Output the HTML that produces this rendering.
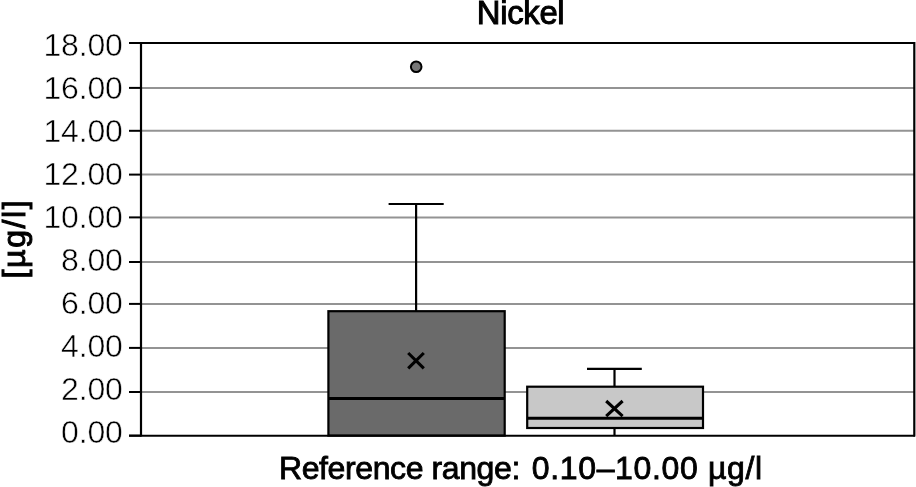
<!DOCTYPE html>
<html><head><meta charset="utf-8">
<style>
html,body{margin:0;padding:0;background:#fff;}
body{width:916px;height:487px;overflow:hidden;}
svg{display:block;will-change:transform;}
text{font-family:"Liberation Sans",sans-serif;fill:#000;}
.tick{font-size:32px;letter-spacing:-0.2px;stroke:#fff;stroke-width:0.5px;}
.title{font-size:32.8px;letter-spacing:-0.3px;stroke:#000;stroke-width:1px;}
.xl{font-size:32px;letter-spacing:0.2px;}
.yl{font-size:32px;letter-spacing:1.6px;}
.sb{stroke:#000;stroke-width:0.85px;}
</style></head><body>
<svg width="916" height="487" viewBox="0 0 916 487">
<rect x="0" y="0" width="916" height="487" fill="#fff"/>
<line x1="142" y1="87.9" x2="914" y2="87.9" stroke="#939393" stroke-width="2"/>
<line x1="142" y1="130.8" x2="914" y2="130.8" stroke="#939393" stroke-width="2"/>
<line x1="142" y1="174.6" x2="914" y2="174.6" stroke="#939393" stroke-width="2"/>
<line x1="142" y1="217.4" x2="914" y2="217.4" stroke="#939393" stroke-width="2"/>
<line x1="142" y1="262.0" x2="914" y2="262.0" stroke="#939393" stroke-width="2"/>
<line x1="142" y1="303.9" x2="914" y2="303.9" stroke="#939393" stroke-width="2"/>
<line x1="142" y1="347.9" x2="914" y2="347.9" stroke="#939393" stroke-width="2"/>
<line x1="142" y1="392.0" x2="914" y2="392.0" stroke="#939393" stroke-width="2"/>
<line x1="129" y1="43.0" x2="141" y2="43.0" stroke="#000" stroke-width="2"/>
<line x1="129" y1="87.9" x2="141" y2="87.9" stroke="#000" stroke-width="2"/>
<line x1="129" y1="130.8" x2="141" y2="130.8" stroke="#000" stroke-width="2"/>
<line x1="129" y1="174.6" x2="141" y2="174.6" stroke="#000" stroke-width="2"/>
<line x1="129" y1="217.4" x2="141" y2="217.4" stroke="#000" stroke-width="2"/>
<line x1="129" y1="262.0" x2="141" y2="262.0" stroke="#000" stroke-width="2"/>
<line x1="129" y1="303.9" x2="141" y2="303.9" stroke="#000" stroke-width="2"/>
<line x1="129" y1="347.9" x2="141" y2="347.9" stroke="#000" stroke-width="2"/>
<line x1="129" y1="392.0" x2="141" y2="392.0" stroke="#000" stroke-width="2"/>
<line x1="129" y1="435.6" x2="141" y2="435.6" stroke="#000" stroke-width="2"/>
<text x="122.6" y="56.0" text-anchor="end" class="tick">18.00</text>
<text x="122.6" y="99.0" text-anchor="end" class="tick">16.00</text>
<text x="122.6" y="142.0" text-anchor="end" class="tick">14.00</text>
<text x="122.6" y="185.0" text-anchor="end" class="tick">12.00</text>
<text x="122.6" y="228.0" text-anchor="end" class="tick">10.00</text>
<text x="122.6" y="271.0" text-anchor="end" class="tick">8.00</text>
<text x="122.6" y="314.0" text-anchor="end" class="tick">6.00</text>
<text x="122.6" y="357.0" text-anchor="end" class="tick">4.00</text>
<text x="122.6" y="400.0" text-anchor="end" class="tick">2.00</text>
<text x="122.6" y="443.0" text-anchor="end" class="tick">0.00</text>
<line x1="141" y1="43" x2="915" y2="43" stroke="#000" stroke-width="2.2"/>
<line x1="914.3" y1="42" x2="914.3" y2="436.6" stroke="#000" stroke-width="2.2"/>
<line x1="416.1" y1="204" x2="416.1" y2="311" stroke="#000" stroke-width="2.2"/>
<line x1="388.6" y1="204" x2="443.7" y2="204" stroke="#000" stroke-width="2.2"/>
<rect x="328.4" y="311.2" width="176.3" height="124.4" fill="#6a6a6a" stroke="#000" stroke-width="2.2"/>
<line x1="328.4" y1="398.4" x2="504.7" y2="398.4" stroke="#000" stroke-width="3"/>
<path d="M408.2 353 L423.8 368.4 M423.8 353 L408.2 368.4" stroke="#000" stroke-width="3.1" fill="none"/>
<circle cx="416.2" cy="66.8" r="5.3" fill="#777" stroke="#000" stroke-width="2"/>
<line x1="614.5" y1="368.8" x2="614.5" y2="435" stroke="#000" stroke-width="2.2"/>
<line x1="587" y1="368.8" x2="641.8" y2="368.8" stroke="#000" stroke-width="2.2"/>
<rect x="527.2" y="386.7" width="175.8" height="41.3" fill="#c8c8c8" stroke="#000" stroke-width="2.2"/>
<line x1="527.2" y1="418.3" x2="703" y2="418.3" stroke="#000" stroke-width="3"/>
<path d="M606.2 401 L622.6 416.2 M622.6 401 L606.2 416.2" stroke="#000" stroke-width="3.1" fill="none"/>
<line x1="141" y1="42" x2="141" y2="436.6" stroke="#000" stroke-width="2.2"/>
<line x1="129" y1="435.8" x2="915" y2="435.8" stroke="#000" stroke-width="2.1"/>
<text x="520.6" y="23.8" text-anchor="middle" class="title">Nickel</text>
<text x="279" y="479" class="xl sb" style="letter-spacing:-0.4px">Reference range:</text>
<text x="531.8" y="479" class="xl sb" style="letter-spacing:0.65px">0.10–10.00 µg/l</text>
<text transform="translate(24.6,278.4) rotate(-90)" class="yl" stroke="#000" stroke-width="1">[µg/l]</text>
</svg>
</body></html>
